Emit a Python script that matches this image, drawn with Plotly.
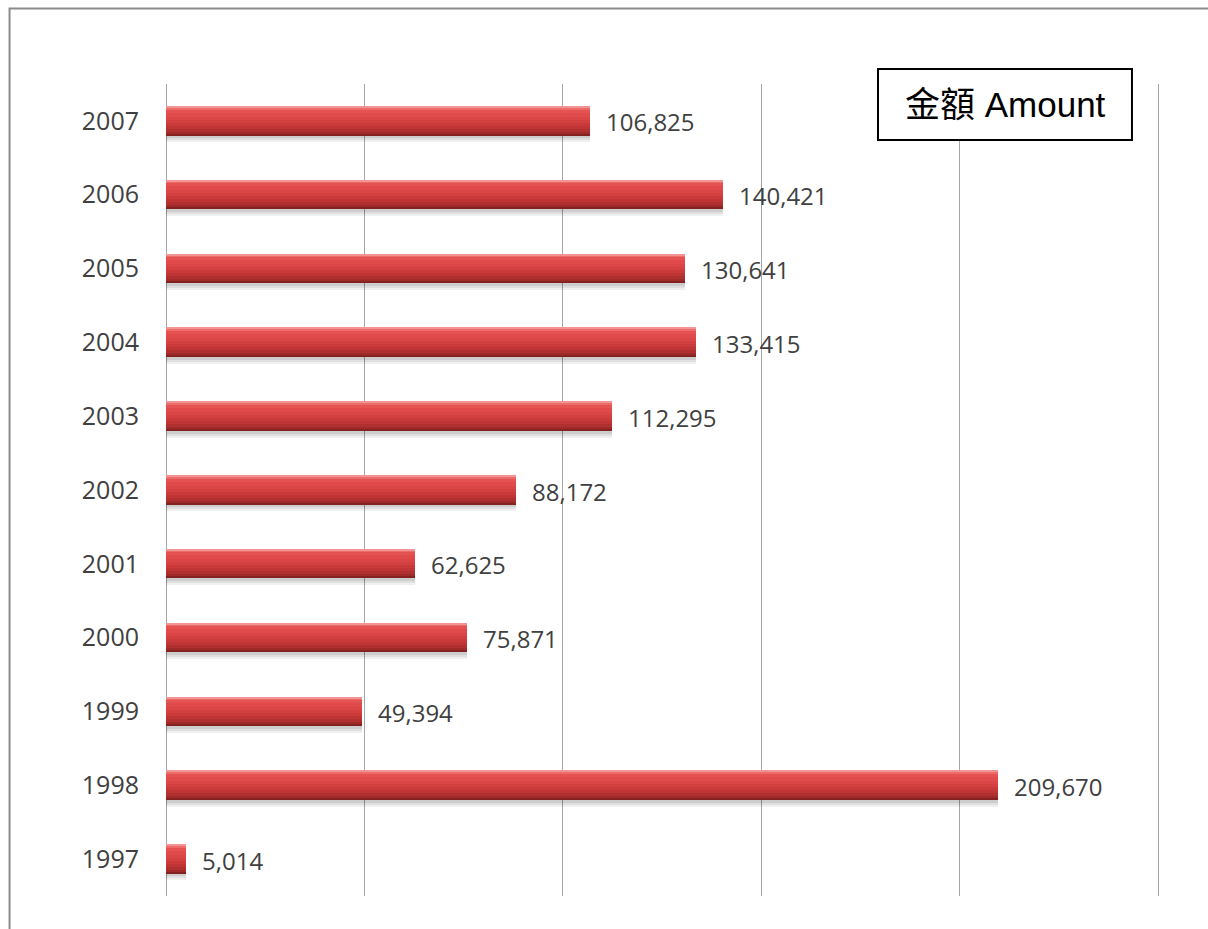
import plotly.graph_objects as go

# Yearly amounts, 1997-2007
years = ["1997", "1998", "1999", "2000", "2001", "2002", "2003", "2004", "2005", "2006", "2007"]
amounts = [5014, 209670, 49394, 75871, 62625, 88172, 112295, 133415, 130641, 140421, 106825]
x_gridlines = [0, 50000, 100000, 150000, 200000, 250000]
box_title = "金額 Amount"

fig = go.Figure()

# Bar thickness in category units and one pixel expressed in those units
H = 0.39
PX = 1 / 73.8
top = H / 2

# Soft drop shadow under each bar
for shift, alpha in [(7, 0.06), (5, 0.07), (3, 0.08)]:
    fig.add_trace(go.Bar(
        y=years, x=amounts, orientation="h",
        offset=-top - shift * PX, width=H,
        marker=dict(color=f"rgba(0,0,0,{alpha})", line=dict(width=0)),
        hoverinfo="skip", showlegend=False,
    ))

# Layered strips give the bar a top-lit cylinder look (dark bottom -> light top)
layers = [
    (29, "#842222"),
    (27, "#9e2a2a"),
    (25, "#b03030"),
    (22, "#bf3535"),
    (19, "#ca3a3a"),
    (16, "#d34040"),
    (13, "#da4545"),
    (10, "#e04a4a"),
    (6, "#e55252"),
    (3, "#ec6c6c"),
    (1, "#f39494"),
]
for i, (h_px, color) in enumerate(layers):
    fig.add_trace(go.Bar(
        y=years, x=amounts, orientation="h",
        offset=top - h_px * PX, width=h_px * PX,
        marker=dict(color=color, line=dict(width=0)),
        hoverinfo="x+y" if i == 0 else "skip",
        showlegend=False,
    ))

# Value labels at the end of each bar (category axis -> positional index)
for idx, val in enumerate(amounts):
    fig.add_annotation(
        x=val, y=idx, xref="x", yref="y", text=f"{val:,}", showarrow=False,
        xanchor="left", yanchor="middle", xshift=14, yshift=-1,
        font=dict(family="Open Sans, Lato, sans-serif", size=24, color="#404040"),
    )

# Outer frame
fig.add_shape(type="rect", xref="paper", yref="paper",
              x0=-0.1574, x1=2.0, y0=-1.0, y1=1.093,
              line=dict(color="#8c8c8c", width=2), fillcolor="rgba(0,0,0,0)",
              layer="below")

# Title box
fig.add_shape(type="rect", xref="paper", yref="paper",
              x0=0.7163, x1=0.9718, y0=0.931, y1=1.0185,
              line=dict(color="#000000", width=2), fillcolor="#ffffff",
              layer="above")
fig.add_annotation(
    xref="paper", yref="paper", x=0.8445, y=0.9745,
    text=box_title, showarrow=False, xanchor="center", yanchor="middle",
    font=dict(family="Liberation Sans, Arial, Noto Sans CJK TC", size=35, color="#000000"),
)

fig.update_layout(
    width=1208, height=929,
    margin=dict(l=166, r=48, t=84, b=33),
    paper_bgcolor="#ffffff", plot_bgcolor="#ffffff",
    barmode="overlay", bargap=0,
    showlegend=False,
    xaxis=dict(
        range=[0, 250400], tickvals=x_gridlines, showticklabels=False,
        showgrid=True, gridcolor="#a6a6a6", gridwidth=1,
        zeroline=True, zerolinecolor="#a6a6a6", zerolinewidth=1,
        showline=False, fixedrange=True,
    ),
    yaxis=dict(
        type="category", categoryorder="array", categoryarray=years,
        range=[-0.5, 10.5], showgrid=False, zeroline=False, showline=False,
        ticks="", ticklabelstandoff=26,
        tickfont=dict(family="Open Sans, Lato, sans-serif", size=25, color="#404040"),
        fixedrange=True,
    ),
)

fig.write_html("out.html")
